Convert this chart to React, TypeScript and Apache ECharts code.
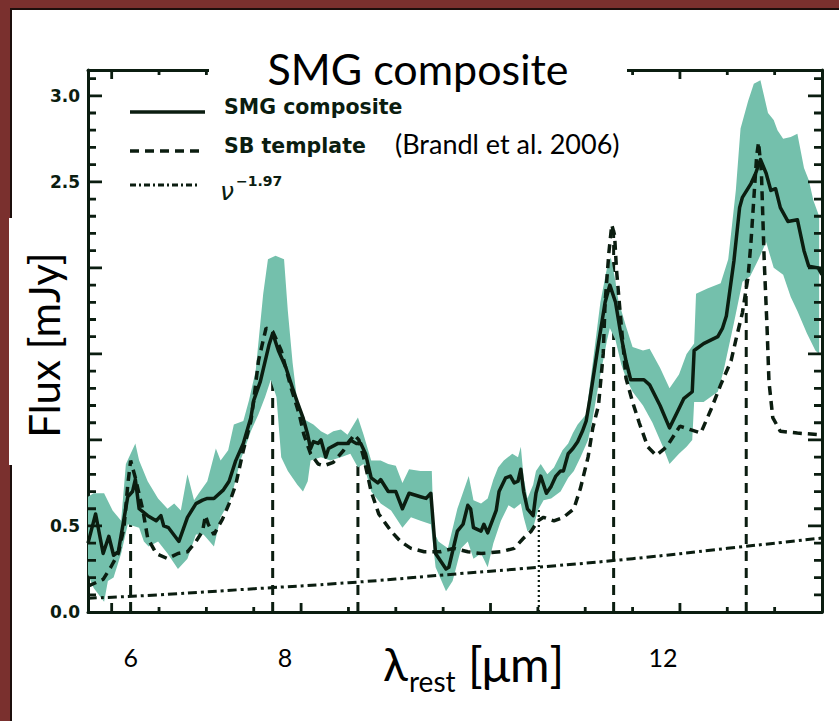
import React, { useEffect, useRef } from "react";
import * as echarts from "echarts";

// ---------------- data ----------------
const X_MIN = 5.75;
const X_MAX = 13.5;
const Y_MIN = 0;
const Y_MAX = 3.15;

const xMajorTicks = [6, 8, 10, 12];
const xMinorTicks = [6.5, 7, 7.5, 8.5, 9, 9.5, 10.5, 11, 11.5, 12.5, 13];
const xTickLabels = [6, 8, 12];
const yMajorTicks = [0.5, 1, 1.5, 2, 2.5, 3];
const yMinorTicks = [
  0.1, 0.2, 0.3, 0.4, 0.6, 0.7, 0.8, 0.9, 1.1, 1.2, 1.3, 1.4, 1.6, 1.7, 1.8,
  1.9, 2.1, 2.2, 2.3, 2.4, 2.6, 2.7, 2.8, 2.9, 3.1,
];
const yTickLabels = [0, 0.5, 2.5, 3];

// SMG composite spectrum [lambda (um), flux (mJy)]
const smgComposite = [
  [5.75, 0.4], [5.83, 0.57], [5.91, 0.34], [5.97, 0.44], [6.02, 0.33], [6.07, 0.35],
  [6.17, 0.67], [6.22, 0.7], [6.25, 0.77], [6.29, 0.6], [6.38, 0.56], [6.47, 0.53],
  [6.52, 0.56], [6.55, 0.5], [6.6, 0.49], [6.71, 0.41], [6.8, 0.55], [6.89, 0.63],
  [6.96, 0.65], [7.01, 0.66], [7.08, 0.66], [7.18, 0.71], [7.24, 0.76], [7.31, 0.88],
  [7.39, 0.98], [7.47, 1.13], [7.5, 1.23], [7.57, 1.34], [7.66, 1.55], [7.7, 1.62],
  [7.76, 1.52], [7.84, 1.42], [7.91, 1.3], [7.96, 1.22], [8.02, 1.13], [8.07, 1.03],
  [8.1, 0.95], [8.13, 0.99], [8.18, 0.98], [8.21, 1.0], [8.26, 0.9], [8.29, 0.95],
  [8.39, 0.98], [8.49, 0.98], [8.52, 1.0], [8.58, 0.98], [8.63, 0.98], [8.68, 0.92],
  [8.74, 0.78], [8.81, 0.75], [8.84, 0.77], [8.92, 0.7], [9.0, 0.7], [9.07, 0.6],
  [9.14, 0.69], [9.26, 0.67], [9.32, 0.66], [9.37, 0.69], [9.42, 0.34], [9.53, 0.25],
  [9.56, 0.26], [9.65, 0.47], [9.71, 0.51], [9.76, 0.62], [9.79, 0.6], [9.82, 0.49],
  [9.9, 0.47], [9.93, 0.51], [9.97, 0.46], [10.06, 0.59], [10.09, 0.7], [10.16, 0.78],
  [10.21, 0.79], [10.25, 0.75], [10.29, 0.76], [10.32, 0.83], [10.35, 0.7], [10.39, 0.6],
  [10.45, 0.56], [10.48, 0.69], [10.53, 0.79], [10.56, 0.74], [10.59, 0.69], [10.64, 0.73],
  [10.69, 0.79], [10.74, 0.82], [10.77, 0.82], [10.82, 0.92], [10.87, 0.95], [10.92, 0.99],
  [10.97, 1.05], [11.01, 1.11], [11.05, 1.24], [11.14, 1.56], [11.21, 1.8], [11.26, 1.9],
  [11.32, 1.8], [11.38, 1.6], [11.43, 1.46], [11.48, 1.35], [11.62, 1.35], [11.68, 1.32],
  [11.79, 1.2], [11.89, 1.07], [11.97, 1.16], [12.04, 1.24], [12.13, 1.28], [12.15, 1.52],
  [12.25, 1.56], [12.4, 1.6], [12.45, 1.65], [12.49, 1.72], [12.57, 2.04], [12.63, 2.35],
  [12.66, 2.41], [12.75, 2.49], [12.8, 2.55], [12.85, 2.63], [12.91, 2.55], [12.96, 2.45],
  [13.01, 2.46], [13.06, 2.35], [13.14, 2.27], [13.24, 2.28], [13.31, 2.1], [13.36, 2.01],
  [13.46, 2.0], [13.5, 1.96],
];

// upper / lower edge of the shaded uncertainty band
const bandUpper = [
  [5.75, 0.67], [5.81, 0.69], [5.92, 0.69], [6.01, 0.59], [6.1, 0.53], [6.15, 0.86],
  [6.25, 0.98], [6.29, 0.88], [6.38, 0.76], [6.49, 0.66], [6.59, 0.6], [6.66, 0.63],
  [6.73, 0.59], [6.8, 0.8], [6.87, 0.65], [6.92, 0.69], [7.01, 0.76], [7.1, 0.95],
  [7.15, 0.88], [7.23, 0.94], [7.29, 1.09], [7.39, 1.11], [7.45, 1.23], [7.52, 1.4],
  [7.6, 1.85], [7.65, 2.05], [7.73, 2.07], [7.82, 2.05], [7.86, 1.75], [7.91, 1.45],
  [7.96, 1.22], [8.03, 1.12], [8.13, 1.09], [8.21, 1.05], [8.28, 1.03], [8.34, 1.05],
  [8.42, 1.06], [8.49, 1.03], [8.6, 1.13], [8.66, 1.03], [8.74, 0.88], [8.84, 0.88],
  [8.92, 0.86], [9.0, 0.85], [9.07, 0.75], [9.14, 0.83], [9.26, 0.82], [9.38, 0.82],
  [9.4, 0.47], [9.45, 0.41], [9.55, 0.37], [9.65, 0.6], [9.77, 0.79], [9.82, 0.65],
  [9.9, 0.63], [9.97, 0.66], [10.03, 0.77], [10.08, 0.84], [10.14, 0.88], [10.23, 0.92],
  [10.29, 0.9], [10.32, 0.96], [10.35, 0.78], [10.39, 0.66], [10.45, 0.74], [10.48, 0.82],
  [10.53, 0.86], [10.6, 0.8], [10.67, 0.84], [10.76, 0.94], [10.82, 0.98], [10.87, 1.04],
  [10.92, 1.09], [11.01, 1.15], [11.08, 1.45], [11.16, 1.8], [11.23, 2.0], [11.27, 2.06],
  [11.31, 1.95], [11.35, 1.81], [11.43, 1.66], [11.5, 1.54], [11.61, 1.52], [11.68, 1.53],
  [11.79, 1.42], [11.89, 1.3], [11.99, 1.38], [12.07, 1.5], [12.15, 1.56], [12.17, 1.85],
  [12.29, 1.88], [12.43, 1.91], [12.51, 2.05], [12.59, 2.45], [12.64, 2.81], [12.72, 2.97],
  [12.78, 3.07], [12.85, 3.09], [12.93, 2.9], [12.99, 2.86], [13.03, 2.8], [13.09, 2.75],
  [13.17, 2.76], [13.24, 2.78], [13.31, 2.58], [13.36, 2.51], [13.41, 2.39], [13.47, 2.3],
];
const bandLower = [
  [5.75, 0.22], [5.81, 0.14], [5.92, 0.06], [5.96, 0.18], [6.02, 0.2], [6.1, 0.34],
  [6.17, 0.51], [6.29, 0.49], [6.34, 0.41], [6.39, 0.38], [6.49, 0.41], [6.59, 0.34],
  [6.7, 0.25], [6.8, 0.31], [6.89, 0.45], [6.97, 0.45], [7.08, 0.38], [7.15, 0.55],
  [7.26, 0.66], [7.36, 0.88], [7.47, 1.05], [7.55, 1.15], [7.62, 1.25], [7.68, 1.35],
  [7.74, 1.25], [7.79, 0.9], [7.86, 0.82], [7.96, 0.74], [8.02, 0.7], [8.07, 0.76],
  [8.1, 0.88], [8.21, 0.9], [8.31, 0.88], [8.42, 0.9], [8.52, 0.92], [8.6, 0.84],
  [8.66, 0.86], [8.74, 0.7], [8.84, 0.63], [8.95, 0.59], [9.07, 0.49], [9.16, 0.55],
  [9.26, 0.53], [9.37, 0.51], [9.42, 0.26], [9.53, 0.12], [9.6, 0.18], [9.69, 0.37],
  [9.76, 0.41], [9.82, 0.31], [9.9, 0.34], [9.97, 0.26], [10.03, 0.4], [10.11, 0.53],
  [10.19, 0.62], [10.25, 0.6], [10.32, 0.63], [10.35, 0.55], [10.39, 0.47], [10.45, 0.49],
  [10.5, 0.59], [10.56, 0.65], [10.64, 0.66], [10.74, 0.7], [10.82, 0.78], [10.88, 0.82],
  [10.95, 0.9], [11.03, 1.0], [11.07, 1.1], [11.15, 1.35], [11.23, 1.58], [11.26, 1.65],
  [11.32, 1.58], [11.38, 1.44], [11.43, 1.36], [11.5, 1.28], [11.61, 1.2], [11.71, 1.1],
  [11.82, 0.96], [11.89, 0.86], [11.99, 0.92], [12.07, 0.96], [12.13, 1.0], [12.15, 1.22],
  [12.25, 1.22], [12.4, 1.28], [12.46, 1.4], [12.57, 1.68], [12.66, 1.92], [12.74, 1.95],
  [12.83, 2.05], [12.91, 2.15], [12.99, 2.0], [13.09, 1.96], [13.17, 1.83], [13.24, 1.75],
  [13.34, 1.62], [13.43, 1.52], [13.47, 1.5],
];

// starburst template (Brandl et al. 2006)
const sbTemplate = [
  [5.75, 0.15], [5.91, 0.19], [5.99, 0.26], [6.07, 0.34], [6.13, 0.49], [6.17, 0.74],
  [6.2, 0.88], [6.25, 0.78], [6.33, 0.59], [6.38, 0.43], [6.47, 0.34], [6.59, 0.31],
  [6.7, 0.34], [6.8, 0.35], [6.89, 0.41], [6.96, 0.47], [6.99, 0.56], [7.02, 0.51],
  [7.08, 0.45], [7.17, 0.54], [7.24, 0.63], [7.31, 0.74], [7.39, 0.94], [7.47, 1.11],
  [7.5, 1.23], [7.55, 1.46], [7.63, 1.65], [7.7, 1.63], [7.79, 1.52], [7.89, 1.31],
  [7.98, 1.15], [8.03, 1.03], [8.1, 0.92], [8.18, 0.86], [8.24, 0.85], [8.34, 0.87],
  [8.45, 0.94], [8.56, 1.03], [8.61, 1.0], [8.66, 0.9], [8.74, 0.7], [8.82, 0.57],
  [8.95, 0.47], [9.05, 0.41], [9.16, 0.37], [9.3, 0.35], [9.47, 0.35], [9.61, 0.37],
  [9.76, 0.35], [9.9, 0.34], [10.11, 0.35], [10.25, 0.37], [10.35, 0.43], [10.43, 0.47],
  [10.5, 0.53], [10.56, 0.55], [10.67, 0.53], [10.77, 0.55], [10.88, 0.6], [10.95, 0.72],
  [11.03, 0.9], [11.08, 1.07], [11.14, 1.2], [11.19, 1.5], [11.21, 1.8], [11.25, 2.09],
  [11.28, 2.25], [11.31, 2.19], [11.33, 1.99], [11.38, 1.67], [11.43, 1.36], [11.5, 1.22],
  [11.57, 1.1], [11.66, 0.96], [11.75, 0.91], [11.86, 0.96], [12.0, 1.08], [12.11, 1.06],
  [12.22, 1.04], [12.33, 1.18], [12.43, 1.32], [12.54, 1.46], [12.59, 1.58], [12.66, 1.74],
  [12.72, 1.95], [12.75, 2.15], [12.78, 2.4], [12.81, 2.65], [12.83, 2.73], [12.86, 2.56],
  [12.89, 2.04], [12.92, 1.65], [12.94, 1.34], [12.98, 1.13], [13.06, 1.05], [13.24, 1.04],
  [13.48, 1.03],
];

// nu^-1.97 continuum
const powerLaw = [
  [5.75, 0.08], [6.5, 0.1], [7.5, 0.135], [8.5, 0.17], [9.5, 0.215], [10.5, 0.26],
  [11.5, 0.31], [12.5, 0.37], [13.5, 0.43],
];

// feature markers [lambda, top]
const dashedMarkers = [
  [6.2, 0.88], [7.7, 1.63], [8.6, 1.0], [11.3, 2.22], [12.7, 2.7],
];
const dottedMarkers = [[10.51, 0.64]];

// ---------------- styling ----------------
const INK = "#0b1d10";
const TEAL = "#74c0ac";
const LATO = "Lato, 'Open Sans', 'DejaVu Sans', sans-serif";
const BOLD = "'DejaVu Sans', sans-serif";

function buildOption() {
  const lineAxis = { show: true, onZero: false, lineStyle: { color: INK, width: 3 } };

  const bandPolygon = [...bandUpper, ...bandLower.slice().reverse()];

  const markerRender = (dash: number[], width: number) => (params: any, api: any) => {
    const p0 = api.coord([api.value(0), 0]);
    const p1 = api.coord([api.value(0), api.value(1)]);
    return {
      type: "line",
      shape: { x1: p0[0], y1: p0[1], x2: p1[0], y2: p1[1] },
      style: { stroke: INK, lineWidth: width, lineDash: dash },
    };
  };

  // one filled comb polygon per frame side (teeth = ticks, pointing inward)
  const W = 1.4; // half tooth width
  const combRender = (params: any, api: any) => {
    const side = api.value(2);
    const bl = api.coord([X_MIN, Y_MIN]);
    const tr = api.coord([X_MAX, Y_MAX]);
    const pts: number[][] = [];
    if (side === 0 || side === 1) {
      const y = side === 0 ? bl[1] : tr[1];
      const dir = side === 0 ? -1 : 1;
      const xs = [...xMajorTicks, ...xMinorTicks].sort((a, b) => a - b);
      pts.push([bl[0], y]);
      xs.forEach((v) => {
        const x = api.coord([v, Y_MIN])[0];
        const len = xMajorTicks.indexOf(v) >= 0 ? 9 : 5;
        pts.push([x - W, y], [x - W, y + dir * len], [x + W, y + dir * len], [x + W, y]);
      });
      pts.push([tr[0], y], [tr[0], y - dir * 1], [bl[0], y - dir * 1]);
    } else {
      const x = side === 2 ? bl[0] : tr[0];
      const dir = side === 2 ? 1 : -1;
      const ys = [...yMajorTicks, ...yMinorTicks].sort((a, b) => a - b);
      pts.push([x, bl[1]]);
      ys.forEach((v) => {
        const y = api.coord([X_MIN, v])[1];
        const len = yMajorTicks.indexOf(v) >= 0 ? 14 : 8;
        pts.push([x, y + W], [x + dir * len, y + W], [x + dir * len, y - W], [x, y - W]);
      });
      pts.push([x, tr[1]], [x - dir * 1, tr[1]], [x - dir * 1, bl[1]]);
    }
    return { type: "polygon", shape: { points: pts }, style: { fill: INK } };
  };

  const valueAxis = (min: number, max: number, position: string, extra: any = {}) => ({
    type: "value",
    min,
    max,
    position,
    axisLine: lineAxis,
    axisTick: { show: false },
    splitLine: { show: false },
    axisLabel: { show: false },
    ...extra,
  });

  return {
    animation: false,
    backgroundColor: "transparent",
    grid: { left: 88, right: 17, top: 70, bottom: 109, containLabel: false, outerBoundsMode: "none" },
    xAxis: [
      valueAxis(X_MIN, X_MAX, "bottom", {
        axisLabel: {
          show: true,
          customValues: xTickLabels,
          margin: 32,
          color: "#000",
          fontFamily: LATO,
          fontSize: 25,
          formatter: (v: number) => `{l${v}|${v}}`,
          rich: {
            l6: { fontFamily: LATO, fontSize: 25, color: "#000", padding: [0, 0, 0, 38] },
            l8: { fontFamily: LATO, fontSize: 25, color: "#000", padding: [0, 32, 0, 0] },
            l12: { fontFamily: LATO, fontSize: 25, color: "#000", padding: [0, 34, 0, 0] },
          },
        },
      }),
      valueAxis(X_MIN, X_MAX, "top"),
    ],
    yAxis: [
      valueAxis(Y_MIN, Y_MAX, "left", {
        axisLabel: {
          show: true,
          customValues: yTickLabels,
          margin: 8,
          color: INK,
          fontFamily: BOLD,
          fontWeight: "bold",
          fontSize: 17,
          formatter: (v: number) => v.toFixed(1),
        },
      }),
      valueAxis(Y_MIN, Y_MAX, "right"),
    ],
    series: [
      {
        type: "custom",
        name: "markers",
        data: dashedMarkers,
        renderItem: markerRender([10, 7], 3),
        z: 1,
        silent: true,
      },
      {
        type: "custom",
        name: "dotted marker",
        data: dottedMarkers,
        renderItem: markerRender([2, 3], 2.2),
        z: 1,
        silent: true,
      },
      {
        type: "custom",
        name: "band",
        data: [[bandUpper[0][0], bandUpper[0][1]]],
        renderItem: (params: any, api: any) => ({
          type: "polygon",
          shape: { points: bandPolygon.map((p) => api.coord(p)) },
          style: { fill: TEAL },
        }),
        z: 2,
        silent: true,
      },
      {
        type: "line",
        name: "nu^-1.97",
        data: powerLaw,
        smooth: true,
        symbol: "none",
        lineStyle: { color: INK, width: 3, type: [9, 4, 3, 4] },
        z: 3,
        silent: true,
      },
      {
        type: "line",
        name: "SB template",
        data: sbTemplate,
        symbol: "none",
        lineStyle: { color: INK, width: 3.5, type: [9, 6] },
        z: 4,
        silent: true,
      },
      {
        type: "line",
        name: "SMG composite",
        data: smgComposite,
        symbol: "none",
        lineStyle: { color: INK, width: 3.5, join: "round" },
        z: 5,
        silent: true,
      },
      {
        type: "custom",
        name: "frame ticks",
        data: [[6, 1, 0], [6, 1, 1], [6, 1, 2], [6, 1, 3]],
        renderItem: combRender,
        z: 5,
        silent: true,
      },
    ],
    graphic: buildDecor(),
  };
}

function buildDecor() {
  return [
    // title box interrupting the top axis
    { type: "rect", z: 100, shape: { x: 209, y: 36, width: 418, height: 46 }, style: { fill: "#fff" } },
    {
      type: "text", z: 101, x: 418, y: 68,
      style: { text: "SMG composite", fontFamily: LATO, fontSize: 43, fill: "#000", textAlign: "center", textVerticalAlign: "middle" },
    },
    // y axis title box
    { type: "rect", z: 100, shape: { x: 9, y: 218, width: 77, height: 247 }, style: { fill: "#fff" } },
    {
      type: "text", z: 101, x: 44, y: 345, rotation: Math.PI / 2,
      style: { text: "Flux [mJy]", fontFamily: LATO, fontSize: 42, fill: "#000", textAlign: "center", textVerticalAlign: "middle" },
    },
    // x axis title
    {
      type: "text", z: 101, x: 383, y: 663,
      style: { text: "λ", fontFamily: LATO, fontSize: 46, fill: "#000", textAlign: "left", textVerticalAlign: "middle" },
    },
    {
      type: "text", z: 101, x: 409, y: 681,
      style: { text: "rest", fontFamily: LATO, fontSize: 28, fill: "#000", textAlign: "left", textVerticalAlign: "middle" },
    },
    {
      type: "text", z: 101, x: 468, y: 663,
      style: { text: "[μm]", fontFamily: LATO, fontSize: 48, fill: "#000", textAlign: "left", textVerticalAlign: "middle" },
    },
    // legend
    { type: "line", z: 101, shape: { x1: 130, y1: 112, x2: 205, y2: 112 }, style: { stroke: INK, lineWidth: 3.5 } },
    {
      type: "text", z: 101, x: 224, y: 107,
      style: { text: "SMG composite", fontFamily: BOLD, fontWeight: "bold", fontSize: 20.5, fill: INK, textAlign: "left", textVerticalAlign: "middle" },
    },
    { type: "line", z: 101, shape: { x1: 130, y1: 151, x2: 199, y2: 151 }, style: { stroke: INK, lineWidth: 3.5, lineDash: [9, 6] } },
    {
      type: "text", z: 101, x: 224, y: 146,
      style: { text: "SB template", fontFamily: BOLD, fontWeight: "bold", fontSize: 20.5, fill: INK, textAlign: "left", textVerticalAlign: "middle" },
    },
    {
      type: "text", z: 101, x: 395, y: 143,
      style: { text: "(Brandl et al. 2006)", fontFamily: LATO, fontSize: 27, fill: "#000", textAlign: "left", textVerticalAlign: "middle" },
    },
    { type: "line", z: 101, shape: { x1: 130, y1: 185, x2: 199, y2: 185 }, style: { stroke: INK, lineWidth: 3, lineDash: [6, 3, 2, 3] } },
    {
      type: "text", z: 101, x: 220, y: 191,
      style: { text: "ν", fontFamily: BOLD, fontStyle: "italic", fontSize: 25, fill: INK, textAlign: "left", textVerticalAlign: "middle" },
    },
    {
      type: "text", z: 101, x: 236, y: 181,
      style: { text: "−1.97", fontFamily: BOLD, fontWeight: "bold", fontSize: 14, fill: INK, textAlign: "left", textVerticalAlign: "middle" },
    },
  ];
}

export default function App() {
  const ref = useRef<HTMLDivElement>(null);
  useEffect(() => {
    if (!ref.current) return;
    const chart = echarts.init(ref.current, null, { renderer: "svg", width: 839, height: 721 });
    chart.setOption(buildOption() as any);
    return () => chart.dispose();
  }, []);
  return (
    <div style={{ position: "fixed", left: 0, top: 0, width: 839, height: 721, background: "#7a302e", overflow: "hidden" }}>
      <div style={{ position: "absolute", left: 10, top: 8, right: 0, bottom: 0, background: "#1c0e0c" }} />
      <div style={{ position: "absolute", left: 12, top: 10, right: 0, bottom: 0, background: "#ffffff" }} />
      <div ref={ref} style={{ position: "absolute", left: 0, top: 0, width: 839, height: 721 }} />
    </div>
  );
}
